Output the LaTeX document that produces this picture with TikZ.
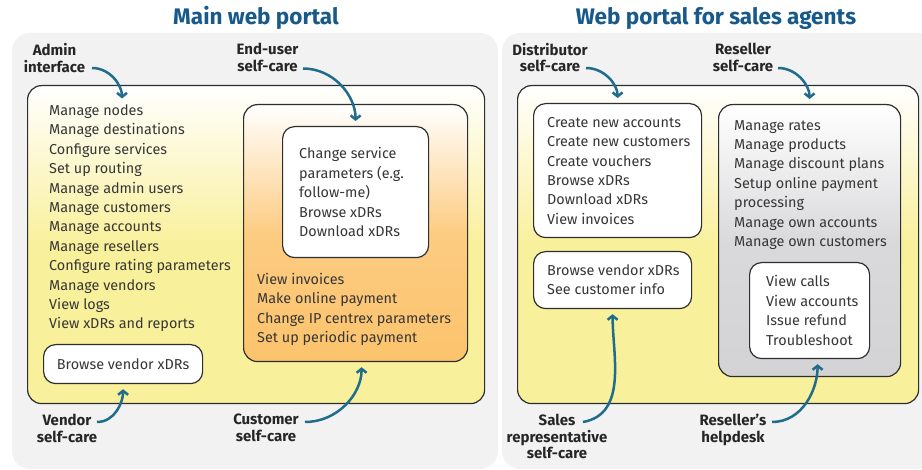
\documentclass[tikz,border=0pt]{standalone}
\usepackage{fontspec}
\setmainfont{Fira Sans}
\usepackage{xcolor}
\usepackage{tikz}
\usetikzlibrary{arrows,arrows.meta,positioning,calc}

\definecolor{panelgray}{HTML}{F1F2F1}
\definecolor{boxyellow}{HTML}{F9F09B}
\definecolor{boxorange}{HTML}{FCC36C}
\definecolor{boxgray}{HTML}{D3D3D6}
\definecolor{boxline}{HTML}{2E2E2E}
\definecolor{arrowblue}{HTML}{1F6C8C}
\definecolor{titleblue}{HTML}{17598A}
\definecolor{itemtext}{HTML}{363636}
\definecolor{roletext}{HTML}{262626}

\begin{document}
\begin{tikzpicture}[x=1pt, y=1pt,
	panel/.style={fill=panelgray, rounded corners=18pt},
	box/.style={draw=boxline, line width=1.2pt, rounded corners=14pt, anchor=north west, inner sep=0pt},
	yellowbox/.style={box, top color=white, bottom color=boxyellow, middle color=boxyellow},
	orangebox/.style={box, top color=white, bottom color=boxorange, middle color=boxorange!85!white},
	graybox/.style={box, top color=white, bottom color=boxgray, middle color=boxgray!85!white},
	whitebox/.style={box, fill=white, rounded corners=12pt},
	items/.style={anchor=north west, align=left, inner sep=0pt, text=itemtext, font=\fontsize{14.4}{19.4}\selectfont},
	role/.style={anchor=north, align=center, inner sep=0pt, text=roletext, font=\bfseries\fontsize{15}{16.5}\selectfont},
	heading/.style={text=titleblue, font=\bfseries\fontsize{22.5}{26}\selectfont},
	callout/.style={draw=arrowblue, line width=2.5pt, -{Straight Barb[length=4pt, width=10pt]}, shorten >=5pt}
	]
	\useasboundingbox (0,0) rectangle (922,-470);
	
	% grey panels
	\fill[panel] (12,-33) rectangle (498,-469);
	\fill[panel] (502,-33) rectangle (945,-469);
	
	\node[heading] (mainhead) at (256,-18) {Main web portal};
	\node[heading] (agenthead) at (716,-18) {Web portal for sales agents};
	
	% main web portal
	\node[yellowbox, minimum width=457pt, minimum height=318pt] (adminbox) at (27,-85) {};
	\node[orangebox, minimum width=224pt, minimum height=257pt] (custbox) at (243,-104) {};
	\node[whitebox, minimum width=146pt, minimum height=131pt] (enduserbox) at (282,-126) {};
	\node[whitebox, minimum width=159pt, minimum height=39pt, text=itemtext, font=\fontsize{14.4}{19.4}\selectfont] (vendorbox) at (43,-344) {Browse vendor xDRs};
	
	\node[items] (adminlist) at (49,-104.5) {Manage nodes\\Manage destinations\\Configure services\\Set up routing\\Manage admin users\\Manage customers\\Manage accounts\\Manage resellers\\Configure rating parameters\\Manage vendors\\View logs\\View xDRs and reports};
	\node[items] (enduserlist) at (299,-147.5) {Change service\\parameters (e.g.\\follow-me)\\Browse xDRs\\Download xDRs};
	\node[items] (custlist) at (257,-273) {View invoices\\Make online payment\\Change IP centrex parameters\\Set up periodic payment};
	
	% sales agents portal
	\node[yellowbox, minimum width=401pt, minimum height=318pt] (agentbox) at (517,-85) {};
	\node[whitebox, minimum width=168pt, minimum height=134pt] (distbox) at (533,-103) {};
	\node[whitebox, minimum width=158pt, minimum height=57pt] (salesbox) at (533,-251) {};
	\node[graybox, minimum width=182pt, minimum height=272pt] (resellerbox) at (718,-104) {};
	\node[whitebox, minimum width=120pt, minimum height=96pt] (helpdeskbox) at (749,-262) {};
	
	\node[items] (distlist) at (547,-117) {Create new accounts\\Create new customers\\Create vouchers\\Browse xDRs\\Download xDRs\\View invoices};
	\node[items] (saleslist) at (547,-264.5) {Browse vendor xDRs\\See customer info};
	\node[items] (resellerlist) at (734,-120) {Manage rates\\Manage products\\Manage discount plans\\Setup online payment\\processing\\Manage own accounts\\Manage own customers};
	\node[items] (helpdesklist) at (766,-275.5) {View calls\\View accounts\\Issue refund\\Troubleshoot};
	
	% roles
	\node[role] (adminlbl) at (54.5,-43.5) {Admin\\interface};
	\node[role] (enduserlbl) at (267.5,-43) {End-user\\self-care};
	\node[role] (vendorlbl) at (67,-414) {Vendor\\self-care};
	\node[role] (custlbl) at (266,-414) {Customer\\self-care};
	\node[role] (distlbl) at (550,-43) {Distributor\\self-care};
	\node[role] (resellerlbl) at (743,-43) {Reseller\\self-care};
	\node[role] (saleslbl) at (557,-414) {Sales\\representative\\self-care};
	\node[role] (helpdesklbl) at (733,-414) {Reseller’s\\helpdesk};
	
	% arrows
	\draw[callout] ($(adminlbl.north)+(37.5,-24.5)$) to[out=0, in=90] ([xshift=73pt,yshift=1pt]adminlist.north west);
	\draw[callout] ($(enduserlbl.north)+(35.5,-25.5)$) to[out=0, in=90] (enduserbox.north);
	\draw[callout] ($(distlbl.north)+(36,-25)$) to[out=0, in=90] (distbox.north);
	\draw[callout] ($(resellerlbl.north)+(35,-25)$) to[out=0, in=90] (resellerbox.north);
	\draw[callout] ($(vendorlbl.north)+(30,-8)$) to[out=0, in=-90] (vendorbox.south);
	\draw[callout] ($(custlbl.north)+(39,-8)$) to[out=0, in=-90] ([xshift=6pt]custbox.south);
	\draw[callout] ($(saleslbl.north)+(26,-8)$) to[out=10, in=-90] (salesbox.south);
	\draw[callout] ($(helpdesklbl.north)+(39,-8)$) to[out=0, in=-90] ([xshift=8pt]helpdeskbox.south);
\end{tikzpicture}
\end{document}
